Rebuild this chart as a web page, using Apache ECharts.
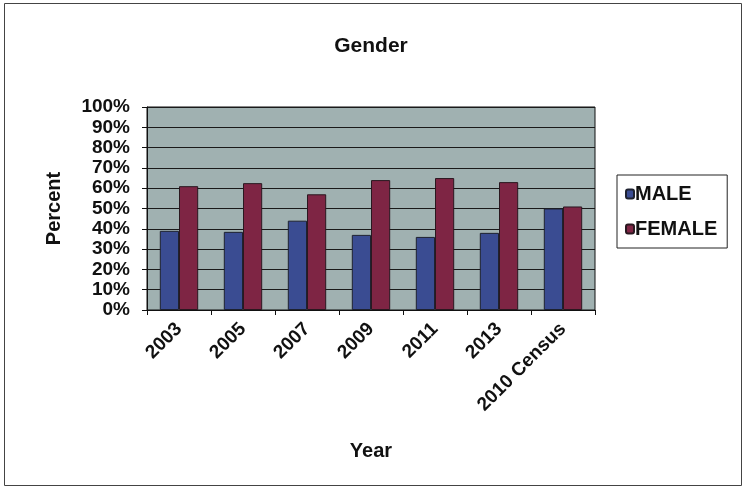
<!DOCTYPE html>
<html><head><meta charset="utf-8">
<script src="https://cdn.jsdelivr.net/npm/echarts@6/dist/echarts.min.js"></script>
<style>html,body{margin:0;padding:0;background:#fff}#c{width:742px;height:490px}</style>
</head><body><div id="c"></div>
<script>
const categories = ['2003','2005','2007','2009','2011','2013','2010 Census'];
const maleValues = [39, 38.5, 44, 37, 36, 38, 50];
const femaleValues = [61, 62.5, 57, 64, 65, 63, 51];
const yTicks = [0,10,20,30,40,50,60,70,80,90,100];

const chart = echarts.init(document.getElementById('c'));
const F = '"Liberation Sans", Arial, sans-serif';
chart.setOption({
  animation: false,
  backgroundColor: '#fff',
  title: { text: 'Gender', left: 'center', top: 31, textStyle: { fontFamily: F, fontWeight: 'bold', fontSize: 21, color: '#111' } },
  legend: {
    orient: 'vertical', left: 617, top: 175, itemWidth: 8, itemHeight: 9, itemGap: 15,
    padding: [9, 10, 9, 8], borderColor: '#222', borderWidth: 1, icon: 'roundRect',
    textStyle: { fontFamily: F, fontWeight: 'bold', fontSize: 20, color: '#111', padding: [0, 0, 0, -4] },
    data: ['MALE', 'FEMALE']
  },
  graphic: [{ type: 'rect', left: 2, top: 1, shape: { width: 737, height: 482 }, style: { fill: 'none', stroke: '#444', lineWidth: 1 }, silent: true }],
  grid: { left: 147, right: 147, top: 107, bottom: 180, show: true, backgroundColor: '#a0b1b1', borderColor: '#111', borderWidth: 1 },
  xAxis: {
    type: 'category', data: categories,
    name: 'Year', nameLocation: 'middle', nameGap: 131,
    nameTextStyle: { fontFamily: F, fontWeight: 'bold', fontSize: 20, color: '#111' },
    axisLine: { lineStyle: { color: '#111' } },
    axisTick: { show: true, alignWithLabel: false, length: 5, lineStyle: { color: '#111' } },
    axisLabel: { rotate: 45, interval: 0, margin: 16, fontFamily: F, fontWeight: 'bold', fontSize: 19, color: '#111' }
  },
  yAxis: {
    type: 'value', min: 0, max: 100, interval: 10,
    name: 'Percent', nameLocation: 'middle', nameGap: 83, nameRotate: 90,
    nameTextStyle: { fontFamily: F, fontWeight: 'bold', fontSize: 20, color: '#111' },
    axisLine: { show: true, lineStyle: { color: '#111' } },
    axisTick: { show: true, length: 5, lineStyle: { color: '#111' } },
    splitLine: { lineStyle: { color: '#1a1a1a', width: 1 } },
    axisLabel: { margin: 17, fontFamily: F, fontWeight: 'bold', fontSize: 19, lineHeight: 19, color: '#111',
      formatter: v => yTicks.includes(v) ? v + '%' : '' }
  },
  series: [
    { name: 'MALE', type: 'bar', data: maleValues, barGap: '0%', barCategoryGap: '40%',
      itemStyle: { color: '#3a4c92', borderColor: '#1e2230', borderWidth: 1 } },
    { name: 'FEMALE', type: 'bar', data: femaleValues,
      itemStyle: { color: '#7e2544', borderColor: '#2a1820', borderWidth: 1 } }
  ]
});
</script></body></html>
